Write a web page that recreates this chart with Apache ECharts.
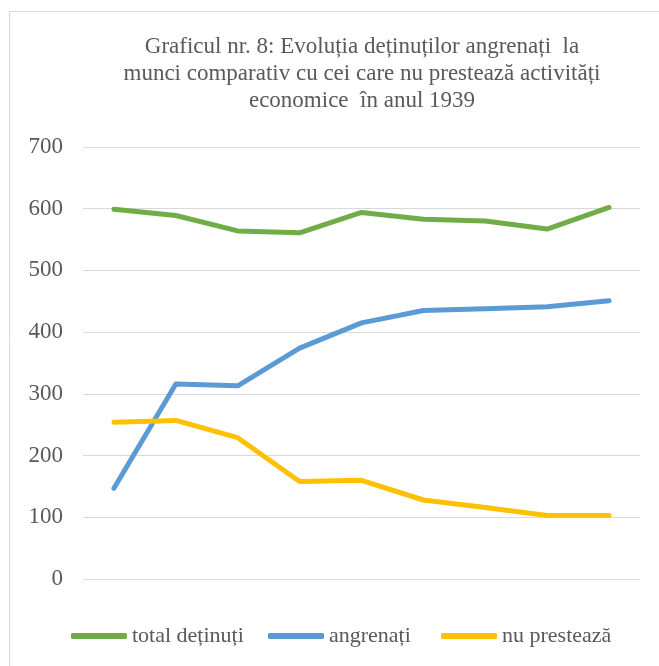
<!DOCTYPE html>
<html>
<head>
<meta charset="utf-8">
<script src="https://cdn.jsdelivr.net/npm/echarts@6/dist/echarts.min.js"></script>
<style>
  html, body { margin: 0; padding: 0; background: #fff; }
  #chart { width: 659px; height: 666px; }
</style>
</head>
<body>
<div id="chart"></div>
<script>
// date
var categories = ["1", "2", "3", "4", "5", "6", "7", "8", "9"];
var totalDetinuti = [599, 589, 564, 561, 594, 583, 580, 567, 602];
var angrenati = [147, 316, 313, 374, 415, 435, 438, 441, 451];
var nuPresteaza = [254, 257, 229, 158, 160, 128, 116, 103, 103];
var seriesNames = ["total deținuți", "angrenați", "nu prestează"];
var colors = ["#70AD47", "#5B9BD5", "#FFC000"];

var chart = echarts.init(document.getElementById("chart"));
var font = "'Liberation Serif', 'Times New Roman', serif";

function lineSeries(name, data, color) {
  return {
    name: name,
    type: "line",
    data: data,
    symbol: "none",
    lineStyle: { color: color, width: 5, cap: "round", join: "round" },
    itemStyle: { color: color }
  };
}

// cate o legenda pentru fiecare serie, ca in original
var legendLeft = [66, 263, 436];
var legends = seriesNames.map(function (name, i) {
  return {
    data: [name],
    left: legendLeft[i],
    top: 620,
    icon: "roundRect",
    itemWidth: 56,
    itemHeight: 6,
    textStyle: { fontFamily: font, fontSize: 22, color: "#595959" }
  };
});

var option = {
  animation: false,
  color: colors,
  graphic: [
    {
      type: "rect",
      shape: { x: 9.5, y: 11.5, width: 700, height: 700 },
      style: { fill: "none", stroke: "#D9D9D9", lineWidth: 1 },
      silent: true
    }
  ],
  title: {
    text: "Graficul nr. 8: Evoluția deținuților angrenați  la\nmunci comparativ cu cei care nu prestează activități\neconomice  în anul 1939",
    left: 357,
    top: 28,
    textAlign: "center",
    textStyle: {
      fontFamily: font,
      fontSize: 23,
      fontWeight: "normal",
      color: "#595959",
      lineHeight: 27
    }
  },
  legend: legends,
  grid: { left: 83, right: 19, top: 147, bottom: 87 },
  xAxis: {
    type: "category",
    data: categories,
    boundaryGap: true,
    axisLine: { show: false },
    axisTick: { show: false },
    axisLabel: { show: false }
  },
  yAxis: {
    type: "value",
    min: 0,
    max: 700,
    interval: 100,
    axisLine: { show: false },
    axisTick: { show: false },
    axisLabel: { fontFamily: font, fontSize: 23, color: "#595959", margin: 20 },
    splitLine: { lineStyle: { color: "#D9D9D9", width: 1 } }
  },
  series: [
    lineSeries(seriesNames[0], totalDetinuti, colors[0]),
    lineSeries(seriesNames[1], angrenati, colors[1]),
    lineSeries(seriesNames[2], nuPresteaza, colors[2])
  ]
};

chart.setOption(option);
</script>
</body>
</html>
